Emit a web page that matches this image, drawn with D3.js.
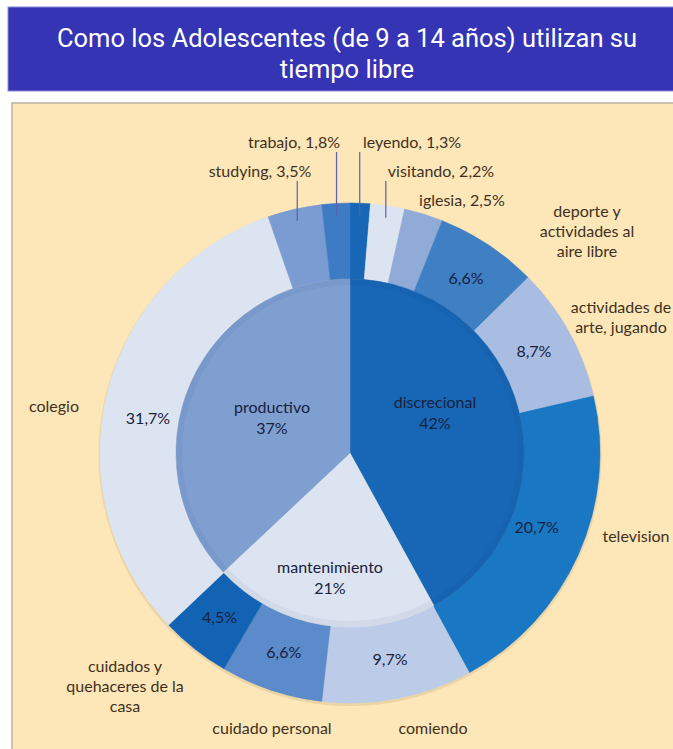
<!DOCTYPE html>
<html>
<head>
<meta charset="utf-8">
<script src="https://cdn.jsdelivr.net/npm/d3@7"></script>
<style>
  body { margin: 0; background: #fff; }
  svg { display: block; }
</style>
</head>
<body>
<script>
// inner ring: the three big groups
var groupNames = ["discrecional", "mantenimiento", "productivo"];
var groupValues = [42, 21, 37];

// outer ring: activities, clockwise from 12 o'clock
var activityNames = ["leyendo", "visitando", "iglesia",
  "deporte y actividades al aire libre", "actividades de arte, jugando",
  "television", "comiendo", "cuidado personal",
  "cuidados y quehaceres de la casa", "colegio", "studying", "trabajo"];
var activityValues = [1.3, 2.2, 2.5, 6.6, 8.7, 20.7, 9.7, 6.6, 4.5, 31.7, 3.5, 1.8];

var title = ["Como los Adolescentes (de 9 a 14 años) utilizan su", "tiempo libre"];

// colours
var groupColors = ["#1767b6", "#dde4f1", "#7f9fd1"];
var activityColors = ["#1767b6", "#dde4f1", "#91abd9", "#3f7fc4", "#a9bde2",
  "#1a77c3", "#bccbe7", "#5b8bcb", "#1363b4", "#dde4f1", "#7b9cd2", "#3d7cc4"];

// label layout (offsets from the centre, lines of text)
var outsideLabels = {
  "leyendo":   { at: [62, -310], lines: ["leyendo, 1,3%"], leader: true },
  "visitando": { at: [91, -281], lines: ["visitando, 2,2%"], leader: true },
  "iglesia":   { at: [112, -252], lines: ["iglesia, 2,5%"] },
  "deporte y actividades al aire libre": { at: [237, -241], lines: ["deporte y", "actividades al", "aire libre"] },
  "actividades de arte, jugando": { at: [271, -145], lines: ["actividades de", "arte, jugando"] },
  "television": { at: [286, 84], lines: ["television"] },
  "comiendo":   { at: [83, 276], lines: ["comiendo"] },
  "cuidado personal": { at: [-78, 276], lines: ["cuidado personal"] },
  "cuidados y quehaceres de la casa": { at: [-225, 214], lines: ["cuidados y", "quehaceres de la", "casa"] },
  "colegio":  { at: [-296, -46], lines: ["colegio"] },
  "studying": { at: [-90, -281], lines: ["studying, 3,5%"], leader: true },
  "trabajo":  { at: [-56, -310], lines: ["trabajo, 1,8%"], leader: true }
};

var W = 673, H = 749;
var cx = 350, cy = 453;
var rInner = 174, rOuter = 250;
var labelFont = "Lato, 'Open Sans', sans-serif";

var svg = d3.select("body").append("svg")
    .attr("width", W)
    .attr("height", H);

// title band
svg.append("rect")
    .attr("x", 8).attr("y", 7)
    .attr("width", W).attr("height", 84)
    .attr("fill", "#3434b4")
    .attr("stroke", "#8a8ad8")
    .attr("stroke-width", 1);

svg.append("text")
    .attr("text-anchor", "middle")
    .attr("font-family", "Roboto, sans-serif")
    .attr("font-size", "25.5px")
    .attr("fill", "#fff")
    .selectAll("tspan")
    .data(title)
    .enter().append("tspan")
    .attr("x", 347)
    .attr("y", function(d, i) { return 47 + i * 31; })
    .text(function(d) { return d; });

// panel
svg.append("rect")
    .attr("x", 12).attr("y", 103)
    .attr("width", 700).attr("height", 700)
    .attr("fill", "#fde6b7")
    .attr("stroke", "#b9b2a3")
    .attr("stroke-width", 1.5);

var g = svg.append("g").attr("transform", "translate(" + cx + "," + cy + ")");

var pie = d3.pie().sort(null).value(function(d) { return d; });
var fmt = function(v) { return d3.format(".1f")(v).replace(".", ","); };

var innerArc = d3.arc().innerRadius(0).outerRadius(rInner);
var outerArc = d3.arc().innerRadius(rInner).outerRadius(rOuter);
var midArc = d3.arc().innerRadius(rInner + 36).outerRadius(rInner + 36);

// soft shadow under the ring
g.append("circle")
    .attr("r", rOuter + 1.5)
    .attr("cy", 1.5)
    .attr("fill", "#c9b48a")
    .attr("opacity", 0.35);

var innerSlices = pie(groupValues);
var outerSlices = pie(activityValues);

g.selectAll("path.outer")
    .data(outerSlices)
    .enter().append("path")
    .attr("class", "outer")
    .attr("d", outerArc)
    .attr("fill", function(d, i) { return activityColors[i]; })
    .attr("stroke", function(d, i) { return activityColors[i]; })
    .attr("stroke-width", 0.5);

g.selectAll("path.inner")
    .data(innerSlices)
    .enter().append("path")
    .attr("class", "inner")
    .attr("d", innerArc)
    .attr("fill", function(d, i) { return groupColors[i]; })
    .attr("stroke", function(d, i) { return groupColors[i]; })
    .attr("stroke-width", 0.5);

// faint darker band just inside the pie edge
g.append("circle")
    .attr("r", rInner - 3)
    .attr("fill", "none")
    .attr("stroke", "#0b2a5a")
    .attr("stroke-opacity", 0.05)
    .attr("stroke-width", 6);

// inner labels
var innerLabelAt = [[85, -45], [-20, 120], [-78, -40]];
innerSlices.forEach(function(d, i) {
  var t = g.append("text")
      .attr("text-anchor", "middle")
      .attr("font-family", labelFont)
      .attr("font-size", "16px")
      .attr("fill", "#17223d");
  t.append("tspan").attr("x", innerLabelAt[i][0]).attr("y", innerLabelAt[i][1]).text(groupNames[i]);
  t.append("tspan").attr("x", innerLabelAt[i][0]).attr("y", innerLabelAt[i][1] + 21)
      .text(Math.round(d.value) + "%");
});

// percentages inside the ring for the bigger activities
g.selectAll("text.pct")
    .data(outerSlices.filter(function(d) { return !outsideLabels[activityNames[d.index]].leader && activityNames[d.index] !== "iglesia"; }))
    .enter().append("text")
    .attr("class", "pct")
    .attr("transform", function(d) {
      var c = midArc.centroid(d);
      if (activityNames[d.index] === "colegio") { c = [c[0] + 2, c[1] + 15]; }
      if (activityNames[d.index] === "television") { c = [c[0] - 5, c[1] - 12]; }
      return "translate(" + c + ")";
    })
    .attr("dy", "0.35em")
    .attr("text-anchor", "middle")
    .attr("font-family", labelFont)
    .attr("font-size", "16px")
    .attr("fill", "#17223d")
    .text(function(d) { return fmt(d.value) + "%"; });

// leader lines
outerSlices.forEach(function(d) {
  var lab = outsideLabels[activityNames[d.index]];
  if (!lab.leader) return;
  var a = (d.startAngle + d.endAngle) / 2;
  var x = 238 * Math.sin(a);
  g.append("line")
      .attr("x1", x).attr("x2", x)
      .attr("y1", lab.at[1] + 9)
      .attr("y2", -238 * Math.cos(a))
      .attr("stroke", "#5b5fa8")
      .attr("stroke-width", 1.2);
});

// outside labels
outerSlices.forEach(function(d) {
  var lab = outsideLabels[activityNames[d.index]];
  var t = g.append("text")
      .attr("text-anchor", "middle")
      .attr("font-family", labelFont)
      .attr("font-size", "16px")
      .attr("fill", "#3d321f");
  lab.lines.forEach(function(line, j) {
    t.append("tspan")
        .attr("x", lab.at[0])
        .attr("y", lab.at[1] + 5 + j * 20)
        .text(line);
  });
});
</script>
</body>
</html>
